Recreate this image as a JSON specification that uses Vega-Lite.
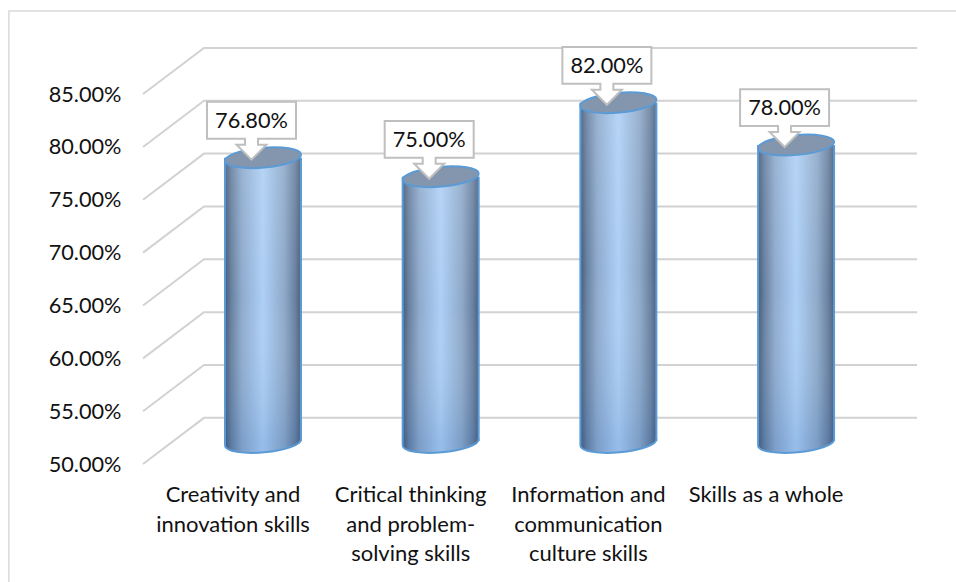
{
"$schema":"https://vega.github.io/schema/vega-lite/v6.json",
"width":956,"height":582,"autosize":"none","padding":0,"background":"white",
"config":{"view":{"stroke":null},"text":{"font":"Lato"},"scale":{"continuousPadding":0}},
"datasets":{
"bars":[{"skill":"Creativity and innovation skills","idx":1,"share":0.768,"lines":["Creativity and","innovation skills"]},
{"skill":"Critical thinking and problem-solving skills","idx":2,"share":0.75,"lines":["Critical thinking","and problem-","solving skills"]},
{"skill":"Information and communication culture skills","idx":3,"share":0.82,"lines":["Information and","communication","culture skills"]},
{"skill":"Skills as a whole","idx":4,"share":0.78,"lines":["Skills as a whole"]}],
"grid":[
{"t":0.5,"x":0.325,"y":0.5},{"t":0.5,"x":0.668,"y":0.5437},{"t":0.5,"x":4.681,"y":0.5437},
{"t":0.55,"x":0.325,"y":0.55},{"t":0.55,"x":0.668,"y":0.5937},{"t":0.55,"x":4.681,"y":0.5937},
{"t":0.6,"x":0.325,"y":0.6},{"t":0.6,"x":0.668,"y":0.6437},{"t":0.6,"x":4.681,"y":0.6437},
{"t":0.65,"x":0.325,"y":0.65},{"t":0.65,"x":0.668,"y":0.6937},{"t":0.65,"x":4.681,"y":0.6937},
{"t":0.7,"x":0.325,"y":0.7},{"t":0.7,"x":0.668,"y":0.7437},{"t":0.7,"x":4.681,"y":0.7437},
{"t":0.75,"x":0.325,"y":0.75},{"t":0.75,"x":0.668,"y":0.7937},{"t":0.75,"x":4.681,"y":0.7937},
{"t":0.8,"x":0.325,"y":0.8},{"t":0.8,"x":0.668,"y":0.8437},{"t":0.8,"x":4.681,"y":0.8437},
{"t":0.85,"x":0.325,"y":0.85},{"t":0.85,"x":0.668,"y":0.8937},{"t":0.85,"x":4.681,"y":0.8937}]
},
"resolve":{"scale":{"y":"independent"}},
"layer":[
{"data":{"values":[{}]},"mark":{"type":"rect","fill":null,"stroke":"#d9d9d9","strokeWidth":1.5},
"encoding":{"x":{"datum":-0.43,"type":"quantitative","scale":{"domain":[-0.48,4.9],"nice":false,"zero":false},"axis":null},"x2":{"datum":6},
"y":{"datum":0.9286,"type":"quantitative","scale":{"domain":[0.3884,0.939],"nice":false,"zero":false},"axis":null},"y2":{"datum":0.1}}},
{"data":{"name":"grid"},"mark":{"type":"line","color":"#d2d2d2","strokeWidth":2,"clip":false},
"encoding":{"detail":{"field":"t"},"order":{"field":"x"},
"x":{"field":"x","type":"quantitative","scale":{"domain":[-0.48,4.9],"nice":false,"zero":false},"axis":null},
"y":{"field":"y","type":"quantitative","scale":{"domain":[0.3884,0.939],"nice":false,"zero":false},
"axis":{"values":[0.5,0.55,0.6,0.65,0.7,0.75,0.8,0.85],"format":".2%","offset":-121,"domain":false,"ticks":false,"grid":false,"title":null,"labelPadding":0,"labelFont":"Lato","labelFontSize":21.7,"labelColor":"#111111"}}}},
{"data":{"name":"bars"},"mark":{"type":"bar","orient":"vertical","width":76,"fill":{"gradient":"linear","x1":0,"y1":0,"x2":1,"y2":0,"stops":[{"offset":0,"color":"#445a78"},{"offset":0.08,"color":"#67809f"},{"offset":0.22,"color":"#8eaacd"},{"offset":0.5,"color":"#aed0f6"},{"offset":0.78,"color":"#8ea9c9"},{"offset":0.92,"color":"#6a82a1"},{"offset":1,"color":"#4a5f7c"}]}},
"encoding":{"x":{"field":"idx","type":"quantitative","scale":{"domain":[-0.48,4.9],"nice":false,"zero":false},"axis":null},
"y":{"field":"share","type":"quantitative","scale":{"domain":[0.3666,0.9172],"nice":false,"zero":false},"axis":null},"y2":{"datum":0.5}}},
{"data":{"name":"bars"},"mark":{"type":"bar","orient":"vertical","width":76,"fill":{"gradient":"linear","x1":0,"y1":0,"x2":0,"y2":1,"stops":[{"offset":0,"color":"rgba(255,255,255,0.1)"},{"offset":0.5,"color":"rgba(255,255,255,0)"},{"offset":1,"color":"rgba(31,95,176,0.16)"}]}},
"encoding":{"x":{"field":"idx","type":"quantitative","scale":{"domain":[-0.48,4.9],"nice":false,"zero":false},"axis":null},
"y":{"field":"share","type":"quantitative","scale":{"domain":[0.3666,0.9172],"nice":false,"zero":false},"axis":null},"y2":{"datum":0.5}}},
{"data":{"name":"bars"},"mark":{"type":"point","filled":true,"opacity":1,"size":5776,"yOffset":1.5,"shape":"M-1,-0.05 L-1,0.09 A1,0.26 -5 0 0 1,-0.09 L1,-0.05 Z","fill":{"gradient":"linear","x1":0,"y1":0,"x2":1,"y2":0,"stops":[{"offset":0,"color":"#3e5b81"},{"offset":0.08,"color":"#5c7ba2"},{"offset":0.22,"color":"#7c9ec8"},{"offset":0.5,"color":"#97beeb"},{"offset":0.78,"color":"#7c9dc5"},{"offset":0.92,"color":"#5e7ca3"},{"offset":1,"color":"#435f84"}]},"stroke":null},
"encoding":{"x":{"field":"idx","type":"quantitative","scale":{"domain":[-0.48,4.9],"nice":false,"zero":false},"axis":null},
"y":{"datum":0.5,"type":"quantitative","scale":{"domain":[0.3666,0.9172],"nice":false,"zero":false},"axis":null}}},
{"data":{"name":"bars"},"mark":{"type":"point","filled":false,"opacity":1,"size":5776,"yOffset":1.5,"shape":"M-1,0.09 A1,0.26 -5 0 0 1,-0.09","fill":null,"stroke":"#5b9bd5","strokeWidth":2},
"encoding":{"x":{"field":"idx","type":"quantitative","scale":{"domain":[-0.48,4.9],"nice":false,"zero":false},"axis":null},
"y":{"datum":0.5,"type":"quantitative","scale":{"domain":[0.3666,0.9172],"nice":false,"zero":false},"axis":null}}},
{"data":{"name":"bars"},"mark":{"type":"rule","color":"#5b9bd5","strokeWidth":2,"xOffset":-38},
"encoding":{"x":{"field":"idx","type":"quantitative","scale":{"domain":[-0.48,4.9],"nice":false,"zero":false},"axis":null},
"y":{"field":"share","type":"quantitative","scale":{"domain":[0.3666,0.9172],"nice":false,"zero":false},"axis":null},"y2":{"datum":0.4955}}},
{"data":{"name":"bars"},"mark":{"type":"rule","color":"#5b9bd5","strokeWidth":2,"xOffset":38},
"encoding":{"x":{"field":"idx","type":"quantitative","scale":{"domain":[-0.48,4.9],"nice":false,"zero":false},"axis":null},
"y":{"field":"share","type":"quantitative","scale":{"domain":[0.3666,0.9172],"nice":false,"zero":false},"axis":null},"y2":{"datum":0.5}}},
{"data":{"name":"bars"},"mark":{"type":"point","filled":true,"opacity":1,"size":5776,"shape":"M-1,0.09 A1,0.26 -5 1 1 1,-0.09 A1,0.26 -5 1 1 -1,0.09 Z","fill":"#8496ae","stroke":"#5b9bd5","strokeWidth":2},
"encoding":{"x":{"field":"idx","type":"quantitative","scale":{"domain":[-0.48,4.9],"nice":false,"zero":false},"axis":null},
"y":{"field":"share","type":"quantitative","scale":{"domain":[0.3666,0.9172],"nice":false,"zero":false},"axis":null}}},
{"data":{"name":"bars"},"mark":{"type":"point","filled":true,"opacity":1,"size":7921,"xOffset":-11.5,"yOffset":2,"shape":"M-1,-1.3 L1,-1.3 L1,-0.47 L0.146,-0.47 L0.146,-0.337 L0.337,-0.337 L0,0 L-0.337,-0.337 L-0.146,-0.337 L-0.146,-0.47 L-1,-0.47 Z","fill":"white","stroke":"#bfbfbf","strokeWidth":2},
"encoding":{"x":{"field":"idx","type":"quantitative","scale":{"domain":[-0.48,4.9],"nice":false,"zero":false},"axis":null},
"y":{"field":"share","type":"quantitative","scale":{"domain":[0.3666,0.9172],"nice":false,"zero":false},"axis":null}}},
{"data":{"name":"bars"},"mark":{"type":"text","font":"Lato","fontSize":21.7,"color":"#111111","baseline":"middle","xOffset":-11.5,"yOffset":-37},
"encoding":{"x":{"field":"idx","type":"quantitative","scale":{"domain":[-0.48,4.9],"nice":false,"zero":false},"axis":null},
"y":{"field":"share","type":"quantitative","scale":{"domain":[0.3666,0.9172],"nice":false,"zero":false},"axis":null},
"text":{"field":"share","type":"quantitative","format":".2%"}}},
{"data":{"name":"bars"},"mark":{"type":"text","font":"Lato","fontSize":22,"color":"#111111","baseline":"top","lineHeight":29.5,"xOffset":-30},
"encoding":{"x":{"field":"idx","type":"quantitative","scale":{"domain":[-0.48,4.9],"nice":false,"zero":false},"axis":null},
"y":{"datum":0.4801,"type":"quantitative","scale":{"domain":[0.3884,0.939],"nice":false,"zero":false},"axis":null},
"text":{"field":"lines"}}}
]
}
